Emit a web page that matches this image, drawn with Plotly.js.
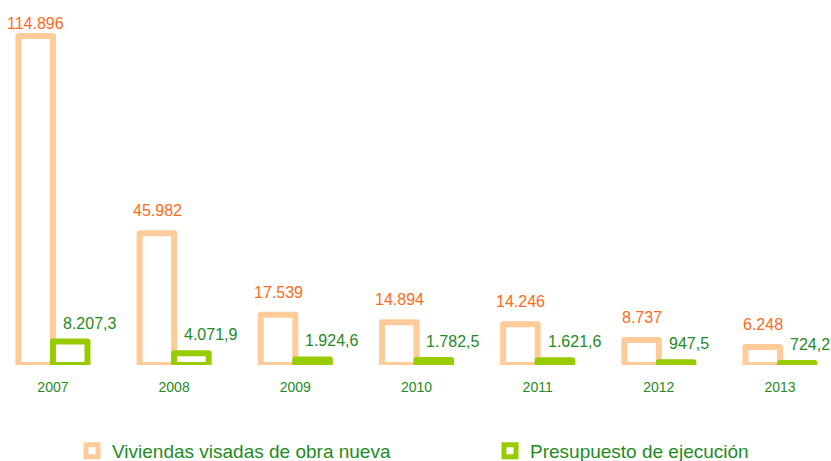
<!DOCTYPE html>
<html>
<head>
<meta charset="utf-8">
<script src="https://cdn.plot.ly/plotly-3.0.1.min.js"></script>
<style>
  html, body { margin: 0; padding: 0; background: #ffffff; }
  #chart { width: 831px; height: 461px; }
  .trace.bars path { stroke-linejoin: round; }
</style>
</head>
<body>
<div id="chart"></div>
<script>
// ---- data ----
const years = ["2007", "2008", "2009", "2010", "2011", "2012", "2013"];
const viviendas = [114896, 45982, 17539, 14894, 14246, 8737, 6248];
const viviendasLabels = ["114.896", "45.982", "17.539", "14.894", "14.246", "8.737", "6.248"];
const presupuesto = [8207.3, 4071.9, 1924.6, 1782.5, 1621.6, 947.5, 724.2];
const presupuestoLabels = ["8.207,3", "4.071,9", "1.924,6", "1.782,5", "1.621,6", "947,5", "724,2"];
const seriesNames = ["Viviendas visadas de obra nueva", "Presupuesto de ejecución"];

// ---- style ----
const orangeLine = "#FFCC99";
const orangeText = "#FF6A1A";
const greenLine = "#99CC00";
const greenText = "#1F8A1F";
const font = "Liberation Sans, Arial, sans-serif";
const yMax = 120474;
const labelCeiling = 111400;

const traces = [
  {
    type: "bar", name: seriesNames[0], x: years, y: viviendas,
    marker: { color: "#ffffff", line: { color: orangeLine, width: 6 } },
    hoverinfo: "none", legend: "legend"
  },
  {
    type: "bar", name: seriesNames[1], x: years, y: presupuesto,
    marker: { color: "#ffffff", line: { color: greenLine, width: 6 } },
    hoverinfo: "none", legend: "legend2"
  }
];

const annotations = [];
years.forEach((yr, i) => {
  annotations.push({
    xref: "x", yref: "y", x: i, y: Math.min(viviendas[i], labelCeiling),
    text: viviendasLabels[i], showarrow: false, xanchor: "center", yanchor: "bottom",
    xshift: -17, yshift: 12, font: { family: font, size: 16, color: orangeText }
  });
  annotations.push({
    xref: "x", yref: "y", x: i, y: presupuesto[i],
    text: presupuestoLabels[i], showarrow: false, xanchor: "left", yanchor: "bottom",
    xshift: 8, yshift: 8, font: { family: font, size: 16, color: greenText }
  });
});

const layout = {
  width: 831, height: 461,
  margin: { l: 0, r: 0, t: 20, b: 96, autoexpand: false },
  paper_bgcolor: "#ffffff", plot_bgcolor: "#ffffff",
  barmode: "group", bargap: 0.43, bargroupgap: 0,
  xaxis: {
    type: "category", range: [-0.437, 6.421],
    showline: false, showgrid: false, zeroline: false, ticks: "",
    ticklabelstandoff: 12,
    tickfont: { family: font, size: 14, color: greenText }
  },
  yaxis: {
    range: [0, yMax], visible: false, showgrid: false, zeroline: false
  },
  showlegend: true,
  legend: {
    x: 72 / 831, xanchor: "left", y: -0.194, yanchor: "top",
    orientation: "h", bgcolor: "rgba(0,0,0,0)",
    font: { family: font, size: 19, color: greenText }
  },
  legend2: {
    x: 490 / 831, xanchor: "left", y: -0.194, yanchor: "top",
    orientation: "h", bgcolor: "rgba(0,0,0,0)",
    font: { family: font, size: 19, color: greenText }
  },
  annotations: annotations
};

Plotly.newPlot("chart", traces, layout, { displayModeBar: false, staticPlot: true });
</script>
</body>
</html>
